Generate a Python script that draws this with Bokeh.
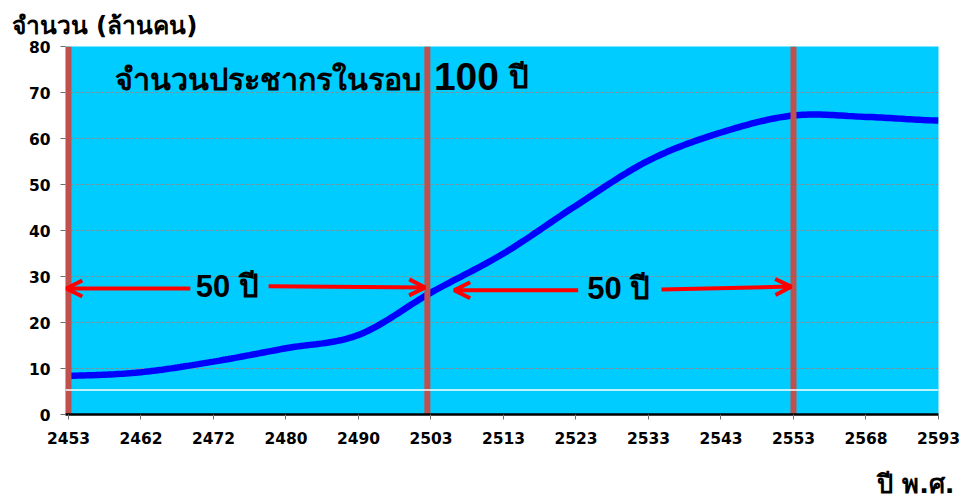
import numpy as np
from bokeh.plotting import figure
from bokeh.models import (FixedTicker, Range1d, Label, Arrow, OpenHead, Span, Title)
from bokeh.embed import file_html
from bokeh.resources import INLINE

# ---- data ----
years = ["2453", "2462", "2472", "2480", "2490", "2503", "2513",
         "2523", "2533", "2543", "2553", "2568", "2593"]
population = [8.4, 9.2, 11.5, 14.4, 17.3, 26.5, 35.0,
              45.4, 55.2, 61.3, 65.0, 64.7, 63.9]
y_ticks = [0, 10, 20, 30, 40, 50, 60, 70, 80]
marker_years = ["2453", "2503", "2553"]
span_label = "50 ปี"
main_title = "จำนวนประชากรในรอบ"
main_num = "100"
main_unit = "ปี"
y_title = "จำนวน (ล้านคน)"
x_title = "ปี พ.ศ."

TICK_FONT = "Tahoma, DejaVu Sans, sans-serif"
BIG_FONT = "Liberation Sans, Arial, sans-serif"

idx = np.arange(len(years))

# Excel-style smoothed line (Catmull-Rom through the data points)
def smooth(xs, ys, n=24):
    xs = np.asarray(xs, float); ys = np.asarray(ys, float)
    px = np.concatenate([[2*xs[0]-xs[1]], xs, [2*xs[-1]-xs[-2]]])
    py = np.concatenate([[ys[0]], ys, [ys[-1]]])
    ox, oy = [], []
    for i in range(1, len(px) - 2):
        t = np.linspace(0, 1, n, endpoint=False)
        for arr, out in ((px, ox), (py, oy)):
            p0, p1, p2, p3 = arr[i-1], arr[i], arr[i+1], arr[i+2]
            out.extend(0.5*((2*p1) + (-p0+p2)*t + (2*p0-5*p1+4*p2-p3)*t**2
                            + (-p0+3*p1-3*p2+p3)*t**3))
    ox.append(xs[-1]); oy.append(ys[-1])
    return ox, oy

sx, sy = smooth(idx, population)

p = figure(frame_width=873, frame_height=368, min_border_left=65,
           min_border_top=46, min_border_right=27, min_border_bottom=85,
           x_range=Range1d(-0.041, len(years) - 1), y_range=Range1d(0, 80),
           output_backend="svg", toolbar_location=None)
p.background_fill_color = "#00CCFF"
p.border_fill_color = "white"
p.outline_line_color = None

# y title (top-left)
p.title.text = y_title
p.title.align = "left"
p.title.vertical_align = "middle"
p.title.offset = -54
p.title.standoff = 12
p.title.text_font = "Tahoma, DejaVu Sans, sans-serif"
p.title.text_font_style = "bold"
p.title.text_font_size = "24.5px"
p.title.text_color = "black"

# x title (bottom-right)
p.add_layout(Title(text=x_title, align="right", offset=-16, standoff=40,
                   text_font="Tahoma, DejaVu Sans, sans-serif", text_font_style="bold",
                   text_font_size="25.5px", text_color="black"), "below")

# grid
p.xgrid.grid_line_color = None
p.ygrid.ticker = FixedTicker(ticks=y_ticks)
p.ygrid.grid_line_color = "#8C8C8C"
p.ygrid.grid_line_dash = "3 2"
p.ygrid.grid_line_width = 1

# axes
p.xaxis.ticker = FixedTicker(ticks=list(idx))
p.xaxis.major_label_overrides = {int(i): y for i, y in zip(idx, years)}
p.yaxis.ticker = FixedTicker(ticks=y_ticks)
for ax in (p.xaxis, p.yaxis):
    ax.major_label_text_font = TICK_FONT
    ax.major_label_text_font_style = "bold"
    ax.major_label_text_font_size = "15.5px"
    ax.major_label_text_color = "black"
    ax.major_tick_line_color = "#6E6E6E"
    ax.major_tick_in = 0
    ax.major_tick_out = 5
    ax.minor_tick_line_color = None
p.xaxis.axis_line_color = "black"
p.xaxis.axis_line_width = 2.5
p.xaxis.major_label_standoff = 12
p.yaxis.axis_line_color = None
p.yaxis.major_label_standoff = 10

# white reference line
p.add_layout(Span(location=5.3, dimension="width", line_color="white", line_width=1.5))

# population curve
p.line(sx, sy, line_color="#0000FF", line_width=6.5)

# red vertical markers (hand-placed in the original, middle one a touch left)
mk = [years.index(m) for m in marker_years]
nudge = [0.0, -0.05, 0.0]
mx = [m + d for m, d in zip(mk, nudge)]
p.segment(x0=mx, x1=mx, y0=[0]*len(mx), y1=[80]*len(mx),
          line_color="#C0504D", line_width=6)

# arrows (offsets from the markers) and labels between markers
arrow_specs = [  # (from marker, start offset, y0, end offset, y1)
    (0, 1.68, 27.4, -0.03, 27.4),
    (0, 2.76, 27.9, 4.92, 27.6),
    (5, 2.03, 27.0, 0.32, 27.0),
    (5, 3.18, 27.2, 4.97, 27.8),
]
for base, xs0, ys0, xe, ye in arrow_specs:
    p.add_layout(Arrow(end=OpenHead(line_color="#FF0000", line_width=4, size=16),
                       x_start=base + xs0, y_start=ys0, x_end=base + xe, y_end=ye,
                       line_color="#FF0000", line_width=4))
for base, dx, yy in [(0, 2.19, 27.9), (5, 2.59, 27.5)]:
    p.add_layout(Label(x=base + dx, y=yy, text=span_label, text_align="center",
                       text_baseline="middle", text_font=BIG_FONT,
                       text_font_style="bold", text_font_size="31px", text_color="black"))

# main heading
p.add_layout(Label(x=0.648, y=73.0, text=main_title, text_align="left",
                   text_baseline="middle", text_font=BIG_FONT,
                   text_font_style="bold", text_font_size="30.5px", text_color="black"))
p.add_layout(Label(x=5.04, y=73.4, text=main_num, text_align="left",
                   text_baseline="middle", text_font=BIG_FONT,
                   text_font_style="bold", text_font_size="39px", text_color="black"))
p.add_layout(Label(x=6.08, y=73.2, text=main_unit, text_align="left",
                   text_baseline="middle", text_font=BIG_FONT,
                   text_font_style="bold", text_font_size="31px", text_color="black"))

open("out.html", "w").write(file_html(p, INLINE))
